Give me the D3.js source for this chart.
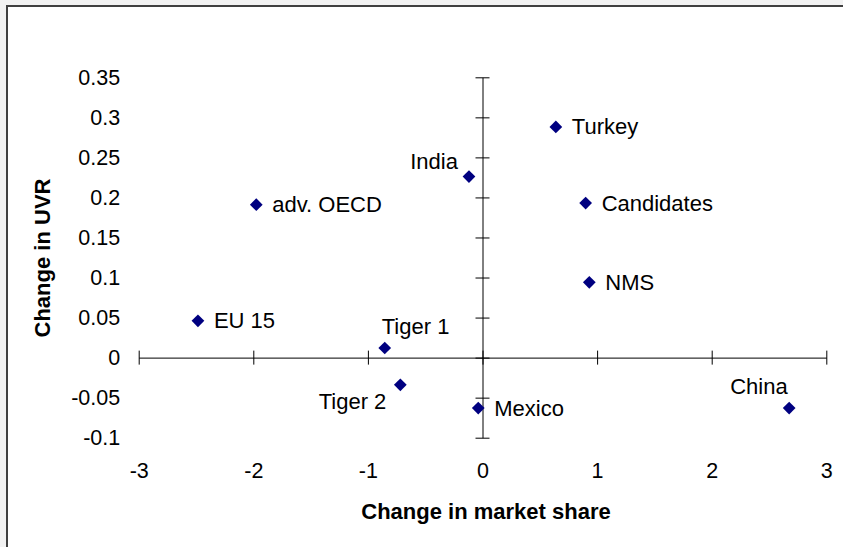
<!DOCTYPE html>
<html>
<head>
<meta charset="utf-8">
<script src="https://cdn.jsdelivr.net/npm/d3@7"></script>
<style>
  body { margin: 0; background: #f2f2f2; }
  text { font-family: Arial, "Liberation Sans", sans-serif; fill: #000; }
</style>
</head>
<body>
<svg id="canvas"></svg>
<script>
// data
const regions = ["Turkey", "India", "Candidates", "adv. OECD", "NMS", "EU 15", "Tiger 1", "Tiger 2", "Mexico", "China"];
const marketShare = [0.64, -0.118, 0.90, -1.974, 0.932, -2.483, -0.853, -0.717, -0.037, 2.676];
const uvr = [0.288, 0.226, 0.193, 0.191, 0.094, 0.046, 0.012, -0.034, -0.063, -0.063];
const xTicks = [-3, -2, -1, 0, 1, 2, 3];
const yTicks = [-0.1, -0.05, 0, 0.05, 0.1, 0.15, 0.2, 0.25, 0.3, 0.35];

const data = regions.map((r, i) => ({ name: r, x: marketShare[i], y: uvr[i] }));

const width = 843, height = 547;

const svg = d3.select("#canvas")
  .attr("width", width)
  .attr("height", height);

// chart frame, runs past the right and bottom edge
svg.append("rect")
  .attr("x", 7)
  .attr("y", 6)
  .attr("width", width + 10)
  .attr("height", height + 10)
  .attr("fill", "#fff")
  .attr("stroke", "#404040")
  .attr("stroke-width", 2);

const x = d3.scaleLinear().domain([-3, 3]).range([138.7, 826.3]);
const y = d3.scaleLinear().domain([-0.1, 0.35]).range([437.7, 77.3]);

// axes cross at zero, ticks cross the line
const xAxis = svg.append("g")
  .attr("transform", `translate(0,${y(0)})`)
  .call(d3.axisBottom(x).tickValues(xTicks).tickSize(14).tickSizeOuter(0).tickFormat(""));
xAxis.selectAll(".tick line").attr("y1", -7).attr("y2", 7);

const yAxis = svg.append("g")
  .attr("transform", `translate(${x(0)},0)`)
  .call(d3.axisLeft(y).tickValues(yTicks).tickSize(14).tickSizeOuter(0).tickFormat(""));
yAxis.selectAll(".tick line").attr("x1", -7).attr("x2", 7);

svg.selectAll(".domain, .tick line").attr("stroke", "#000").attr("stroke-width", 1);

// tick labels sit at the edge of the plot area, plain hyphen minus
const plain = d => String(d);

svg.append("g")
  .attr("transform", `translate(${x(-3)},0)`)
  .call(d3.axisLeft(y).tickValues(yTicks).tickSize(0).tickPadding(18.5).tickFormat(plain))
  .call(g => g.select(".domain").remove())
  .selectAll("text")
  .style("font-size", "21.5px");

svg.append("g")
  .attr("transform", `translate(0,${y(-0.1)})`)
  .call(d3.axisBottom(x).tickValues(xTicks).tickSize(0).tickPadding(25).tickFormat(plain))
  .call(g => g.select(".domain").remove())
  .selectAll("text")
  .style("font-size", "21.5px");

svg.selectAll("text").attr("font-family", null);

// axis titles
svg.append("text")
  .attr("x", 486)
  .attr("y", 519)
  .attr("text-anchor", "middle")
  .style("font-size", "22px")
  .style("font-weight", "bold")
  .text("Change in market share");

svg.append("text")
  .attr("transform", "translate(50,258) rotate(-90)")
  .attr("text-anchor", "middle")
  .style("font-size", "22px")
  .style("font-weight", "bold")
  .text("Change in UVR");

// markers
const diamond = d3.symbol().type(d3.symbolSquare).size(81);
svg.selectAll("path.pt")
  .data(data)
  .enter()
  .append("path")
  .attr("class", "pt")
  .attr("d", diamond)
  .attr("transform", d => `translate(${x(d.x)},${y(d.y)}) rotate(45)`)
  .attr("fill", "#000080");

// where each label sits relative to its marker
const place = {
  "India": { dx: -11, dy: -8, anchor: "end" },
  "Tiger 1": { dx: -3, dy: -14.5, anchor: "start" },
  "Tiger 2": { dx: -14, dy: 24, anchor: "end" },
  "China": { dx: -1.5, dy: -14.5, anchor: "end" }
};
const defaultPlace = { dx: 16, dy: 7.5, anchor: "start" };

svg.selectAll("text.lbl")
  .data(data)
  .enter()
  .append("text")
  .attr("class", "lbl")
  .attr("x", d => x(d.x) + (place[d.name] || defaultPlace).dx)
  .attr("y", d => y(d.y) + (place[d.name] || defaultPlace).dy)
  .attr("text-anchor", d => (place[d.name] || defaultPlace).anchor)
  .style("font-size", "22px")
  .text(d => d.name);
</script>
</body>
</html>
